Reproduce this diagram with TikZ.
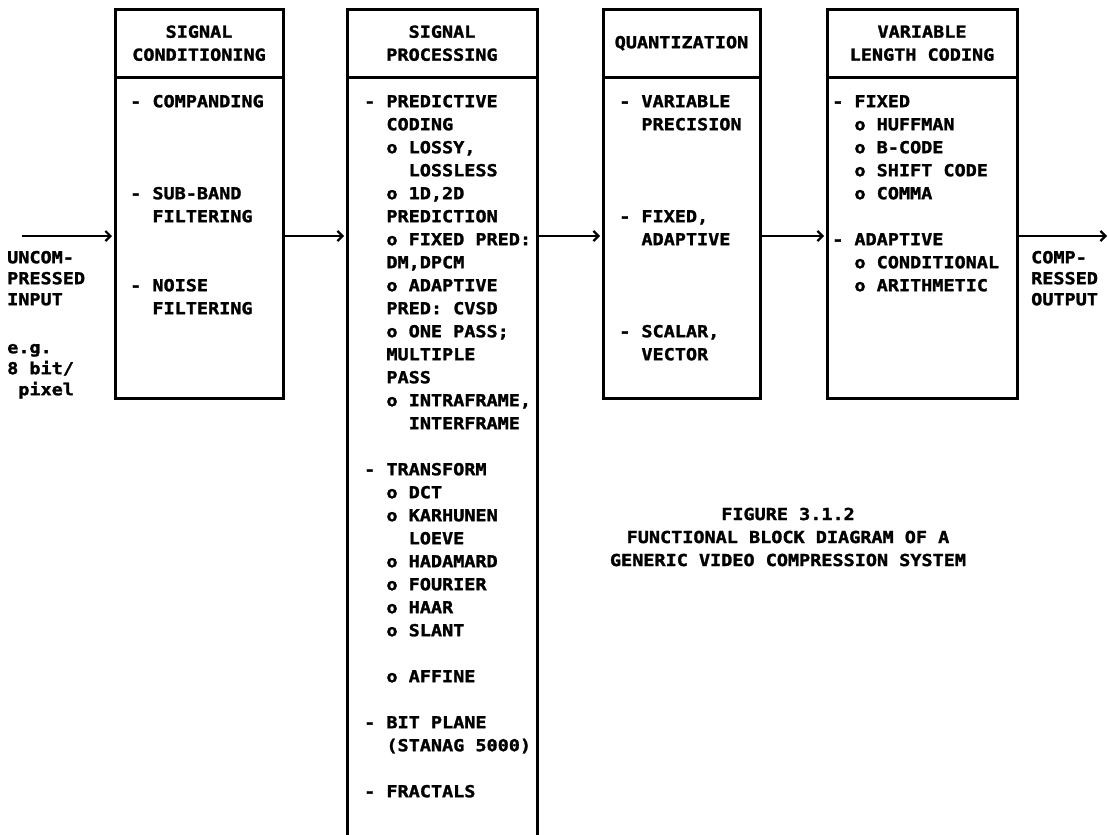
\documentclass[tikz,border=0pt]{standalone}
\usepackage{fontspec}
\newfontfamily\dotfont{DejaVu Sans Mono}[FakeStretch=1.12,FakeBold=1.6]
\usetikzlibrary{arrows.meta,positioning}
\newcommand{\dotsize}{\dotfont\bfseries\fontsize{16.5}{23}\selectfont}
\newcommand{\lblsize}{\dotfont\bfseries\fontsize{16.5}{21}\selectfont}
\newcommand{\topline}{\rule{0pt}{16pt}}
\newcommand{\ind}{\phantom{xx}}
\newcommand{\iind}{\phantom{xxxx}}
\tikzset{>=Stealth,
  box/.style={draw,line width=3pt,anchor=north west,inner sep=0pt,outer sep=0pt},
  head/.style={font=\dotsize,align=center,inner sep=0pt,minimum height=68pt},
  items/.style={font=\dotsize,align=left,inner sep=0pt,anchor=north west},
  lbl/.style={font=\lblsize,align=left,inner sep=0pt,anchor=north west},
  flow/.style={line width=2.2pt,shorten >=3pt,-{Straight Barb[length=5pt,width=10pt]}},
  edge/.style={line width=3pt}}

\begin{document}
\begin{tikzpicture}[x=1pt,y=-1pt]
\useasboundingbox (0,0) rectangle (1109,835);
\fill[white] (0,0) rectangle (1109,835);
\clip (0,0) rectangle (1109,835);
\coordinate (lvl) at (0,236);

\node[box,minimum width=168pt,minimum height=389pt] (cond) at (115,9) {};
\node[box,minimum width=190pt,minimum height=831pt] (proc) at (347,9) {};
\node[box,minimum width=157pt,minimum height=389pt] (quant) at (603,9) {};
\node[box,minimum width=190pt,minimum height=389pt] (vlc) at (827,9) {};

\node[head,below=0pt of cond.north] (cond-h) {SIGNAL\\CONDITIONING};
\node[head,below=0pt of proc.north] (proc-h) {SIGNAL\\PROCESSING};
\node[head,below=0pt of quant.north] (quant-h) {QUANTIZATION};
\node[head,below=0pt of vlc.north] (vlc-h) {VARIABLE\\LENGTH CODING};
\foreach \b in {cond,proc,quant,vlc}
  \draw[edge] (\b-h.south -| \b.west) -- (\b-h.south -| \b.east);

\node[items] (cond-l) at (130,91) {\topline- COMPANDING\\[69pt]
  - SUB-BAND\\ \ind FILTERING\\[46pt]
  - NOISE\\ \ind FILTERING};
\node[items] (proc-l) at (364,91) {\topline- PREDICTIVE\\ \ind CODING\\
  \ind o LOSSY,\\ \iind LOSSLESS\\ \ind o 1D,2D\\ \ind PREDICTION\\
  \ind o FIXED PRED:\\ \ind DM,DPCM\\ \ind o ADAPTIVE\\ \ind PRED: CVSD\\
  \ind o ONE PASS;\\ \ind MULTIPLE\\ \ind PASS\\
  \ind o INTRAFRAME,\\ \iind INTERFRAME\\[23pt]
  - TRANSFORM\\ \ind o DCT\\ \ind o KARHUNEN\\ \iind LOEVE\\
  \ind o HADAMARD\\ \ind o FOURIER\\ \ind o HAAR\\ \ind o SLANT\\[23pt]
  \ind o AFFINE\\[23pt]
  - BIT PLANE\\ \ind (STANAG 5000)\\[23pt]
  - FRACTALS};
\node[items] (quant-l) at (619,91) {\topline- VARIABLE\\ \ind PRECISION\\[69pt]
  - FIXED,\\ \ind ADAPTIVE\\[69pt]
  - SCALAR,\\ \ind VECTOR};
\node[items] (vlc-l) at (832,91) {\topline- FIXED\\ \ind o HUFFMAN\\ \ind o B-CODE\\
  \ind o SHIFT CODE\\ \ind o COMMA\\[23pt]
  - ADAPTIVE\\ \ind o CONDITIONAL\\ \ind o ARITHMETIC};

\coordinate (src) at (22,236);\coordinate (sink) at (1107,236);
\draw[flow] (src) -- (cond.west |- lvl);
\foreach \a/\b in {cond/proc,proc/quant,quant/vlc}
  \draw[flow] (\a.east |- lvl) -- (\b.west |- lvl);
\draw[flow,shorten >=0pt] (vlc.east |- lvl) -- (sink);

\node[lbl] (in-l) at (7,247) {\topline UNCOM-\\PRESSED\\INPUT};
\node[lbl] (eg-l) at (7,337) {\topline e.g.\\8 bit/\\\phantom{x}pixel};
\node[lbl] (out-l) at (1031,247) {\topline COMP-\\RESSED\\OUTPUT};

\node[font=\dotsize,align=center,inner sep=0pt] (capt) at (788,537)
  {FIGURE 3.1.2\\FUNCTIONAL BLOCK DIAGRAM OF A\\GENERIC VIDEO COMPRESSION SYSTEM};
\end{tikzpicture}
\end{document}
